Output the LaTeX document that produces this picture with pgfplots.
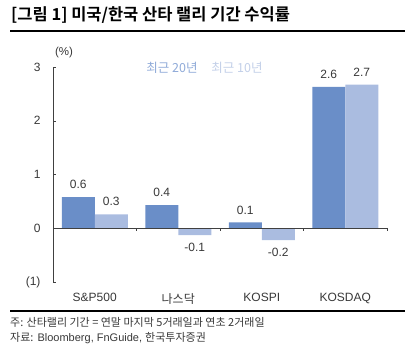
\documentclass[border=0pt]{standalone}
\usepackage{fontspec}
\setmainfont{Liberation Sans}
\newfontfamily\kr[BoldFont={* Bold}]{Noto Sans CJK KR}
\usepackage{pgfplots}
\pgfplotsset{compat=1.18}
\definecolor{cA}{HTML}{6A8EC8}
\definecolor{cB}{HTML}{AABCE0}
\definecolor{lA}{HTML}{8FAAD8}
\definecolor{lB}{HTML}{C2CFE8}
\definecolor{txt}{HTML}{383838}
\begin{document}
\begin{tikzpicture}[x=1pt,y=1pt]
\useasboundingbox (0,0) rectangle (417,347);
\node[anchor=west, inner sep=0pt, font=\kr\bfseries\fontsize{16.5}{18}\selectfont] at (11,332) {[그림 1] 미국/한국 산타 랠리 기간 수익률};
\draw[line width=1.3pt] (10,316) -- (405,316);
\draw[line width=1.3pt] (10,36) -- (405,36);
\node[font=\fontsize{11.5}{13}\selectfont, text=txt] at (64,294) {(\%)};
\node[font=\kr\fontsize{12.5}{14}\selectfont, text=lA] at (172,279) {최근 20년};
\node[font=\kr\fontsize{12.5}{14}\selectfont, text=lB] at (237,279) {최근 10년};
\node[anchor=west, inner sep=0pt, font=\kr\fontsize{11}{13}\selectfont, text=txt] at (10,25) {주: 산타랠리 기간 = 연말 마지막 5거래일과 연초 2거래일};
\node[anchor=west, inner sep=0pt, font=\fontsize{11}{13}\selectfont, text=txt] at (10,9) {{\kr 자료:} Bloomberg, FnGuide, {\kr 한국투자증권}};
\begin{axis}[
  at={(53pt,65pt)}, anchor=south west, scale only axis,
  width=334pt, height=215pt,
  xmin=-0.5, xmax=3.5, ymin=-1, ymax=3,
  ybar=0pt, bar width=33pt,
  axis x line=bottom, axis y line=left,
  axis line style={-, draw=black!75},
  x axis line style={draw=none},
  xtick={0,1,2,3},
  xticklabels={S\&P500, {\kr 나스닥}, KOSPI, KOSDAQ},
  xtick style={draw=none},
  xticklabel style={yshift=-8pt},
  ytick={-1,0,1,2,3},
  yticklabels={(1),0,1,2,3},
  yticklabel style={xshift=-9pt},
  ytick style={draw=black!75},
  tick align=inside, major tick length=3pt,
  tick label style={font=\fontsize{12}{14}\selectfont, text=txt},
  nodes near coords,
  nodes near coords style={font=\fontsize{12}{14}\selectfont, text=txt, inner sep=8pt,
    /pgf/number format/fixed, /pgf/number format/precision=1,
    /pgf/number format/fixed zerofill, /pgf/number format/assume math mode=true},
  clip=false,
]
\addplot[fill=cA, draw=none] coordinates {(0,0.58) (1,0.43) (2,0.11) (3,2.63)};
\addplot[fill=cB, draw=none] coordinates {(0,0.26) (1,-0.13) (2,-0.22) (3,2.67)};
\draw[black!75] (axis cs:-0.5,0) -- (axis cs:3.5,0);
\draw[black!75] (axis cs:0.5,0) -- ++(0pt,-3pt);
\draw[black!75] (axis cs:1.5,0) -- ++(0pt,-3pt);
\draw[black!75] (axis cs:2.5,0) -- ++(0pt,-3pt);
\draw[black!75] (axis cs:3.5,0) -- ++(0pt,-3pt);
\end{axis}
\end{tikzpicture}
\end{document}
